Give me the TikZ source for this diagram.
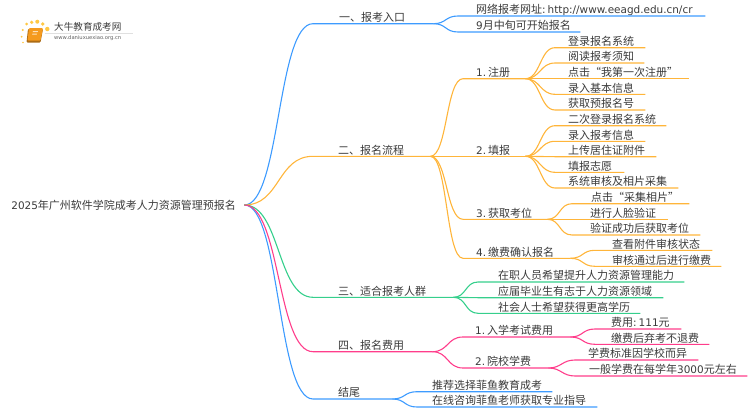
\documentclass[tikz,border=0pt]{standalone}
\usepackage{fontspec}
\usepackage{xcolor}
\setmainfont{Noto Sans CJK SC}
\newfontfamily\latin[Scale=0.95]{DejaVu Sans}
\newcommand{\lat}[1]{{\latin #1}}
\definecolor{mapblue}{HTML}{3D9BFF}
\definecolor{maporange}{HTML}{FFB53A}
\definecolor{mapgreen}{HTML}{35CF8C}
\definecolor{mappink}{HTML}{FF3D8B}
\definecolor{maptext}{HTML}{3A3A3A}
\definecolor{logodot}{HTML}{FFC845}
\definecolor{logobook}{HTML}{F59A1E}

\begin{document}
\begin{tikzpicture}[x=1pt, y=-1pt,
            topic/.style 2 args={anchor=south west, inner xsep=0pt, inner ysep=0pt, text width=#1pt, align=left, text height=8.5pt, text depth=2pt, text=maptext, font=\fontsize{11}{13}\selectfont, execute at begin node={\hspace*{#2pt}}},
            branch/.style={to path={.. controls +(#1,0) and +(-#1,0) .. (\tikztotarget)}},
            link/.style={line width=1.1pt},
            logodots/.style={fill=logodot, draw=none}]

            \useasboundingbox (0,0) rectangle (750,410);

            % logo
            \foreach \px/\py/\pr in {22.7/30/1.1, 21.7/36.7/1, 23/42.5/0.8, 26.7/24/1.5, 31.7/22.3/1.8, 37.3/21.7/2, 42.7/24/1.9, 47.3/29/2.2}
                \fill[logodots] (\px,\py) circle (\pr);
            \fill[logobook!70!black, rounded corners=1pt] (28,29) -- (43,29) -- (40.5,42.5) -- (26.5,42.5) -- cycle;
            \fill[logobook, rounded corners=1pt] (29,28) -- (43,28) -- (40.5,40.5) -- (27.5,40.5) -- cycle;
            \fill[white, opacity=0.7] (33,31) -- (38,31) -- (37.7,32) -- (32.7,32) -- cycle;
            \fill[white, opacity=0.7] (32.5,33.5) -- (37,33.5) -- (36.7,34.5) -- (32.2,34.5) -- cycle;
            \node[anchor=west, inner sep=0pt, text=maptext, font=\fontsize{9.6}{11}\selectfont] (logoname) at (54,26.5) {大牛教育成考网};
            \node[anchor=west, inner sep=0pt, text=maptext!80, font=\fontsize{5.5}{6}\selectfont\latin] (logourl) at (54,38.5) {www.daniuxuexiao.org.cn};
            \fill[black!12] (45,33) rectangle (133,33.5);

            % root
            \node[anchor=west, inner sep=0pt, minimum width=241, minimum height=14, text=maptext, font=\fontsize{11}{13}\selectfont] (root) at (3,205) {\lat{2025}年广州软件学院成考人力资源管理预报名};

            % first level
            \node[topic={120}{26}] (entry) at (313,23.7) {一、报考入口};
            \node[topic={117}{25}] (flow) at (313,156.3) {二、报名流程};
            \node[topic={140}{25}] (crowd) at (313,297.3) {三、适合报考人群};
            \node[topic={119}{25}] (cost) at (313,351.7) {四、报名费用};
            \node[topic={79}{25}] (ending) at (313,399) {结尾};

            % entry leaves
            \node[topic={247}{18}] (site) at (458,16) {网络报考网址\lat{:\hspace{2pt}http://www.eeagd.edu.cn/cr}};
            \node[topic={122}{18}] (start) at (458,32) {\lat{9}月中旬可开始报名};

            % flow steps
            \node[topic={62}{13}] (register) at (463,78.7) {\lat{1.}\hspace{2pt}注册};
            \node[topic={62}{13}] (fill) at (463,156.3) {\lat{2.}\hspace{2pt}填报};
            \node[topic={84}{13}] (seat) at (463,219.3) {\lat{3.}\hspace{2pt}获取考位};
            \node[topic={107}{13}] (pay) at (463,258.3) {\lat{4.}\hspace{2pt}缴费确认报名};

            % register leaves
            \node[topic={90}{13}] (regone) at (555,47.7) {登录报名系统};
            \node[topic={89}{13}] (regtwo) at (555,63) {阅读报考须知};
            \node[topic={134}{13}] (regthree) at (555,78.7) {点击“我第一次注册”};
            \node[topic={90}{13}] (regfour) at (555,94.3) {录入基本信息};
            \node[topic={90}{13}] (regfive) at (555,110) {获取预报名号};

            % fill leaves
            \node[topic={111}{13}] (fillone) at (555,125.7) {二次登录报名系统};
            \node[topic={90}{13}] (filltwo) at (555,141.3) {录入报考信息};
            \node[topic={101}{13}] (fillthree) at (555,156.7) {上传居住证附件};
            \node[topic={69}{13}] (fillfour) at (555,172.3) {填报志愿};
            \node[topic={123}{13}] (fillfive) at (555,188) {系统审核及相片采集};

            % seat leaves
            \node[topic={117}{19}] (seatone) at (572,203.7) {点击“采集相片”};
            \node[topic={96}{18}] (seattwo) at (572,219.3) {进行人脸验证};
            \node[topic={128}{18}] (seatthree) at (572,235) {验证成功后获取考位};

            % pay leaves
            \node[topic={117}{17}] (payone) at (595,250.3) {查看附件审核状态};
            \node[topic={126}{17}] (paytwo) at (595,266.3) {审核通过后进行缴费};

            % crowd leaves
            \node[topic={206}{20}] (crowdone) at (478,282) {在职人员希望提升人力资源管理能力};
            \node[topic={185}{20}] (crowdtwo) at (478,297.7) {应届毕业生有志于人力资源领域};
            \node[topic={162}{20}] (crowdthree) at (478,313.3) {社会人士希望获得更高学历};

            % cost steps and leaves
            \node[topic={107}{12}] (exam) at (463,337) {\lat{1.}\hspace{2pt}入学考试费用};
            \node[topic={85}{12}] (school) at (463,368) {\lat{2.}\hspace{2pt}院校学费};
            \node[topic={86}{16}] (examone) at (595,329) {费用\lat{:\hspace{2pt}111}元};
            \node[topic={114}{16}] (examtwo) at (595,344.3) {缴费后弃考不退费};
            \node[topic={123}{13}] (schoolone) at (575,360) {学费标准因学校而异};
            \node[topic={172}{14}] (schooltwo) at (575,376) {一般学费在每学年\lat{3000}元左右};

            % ending leaves
            \node[topic={135}{15}] (endone) at (417,391.7) {推荐选择菲鱼教育成考};
            \node[topic={180}{15}] (endtwo) at (417,407) {在线咨询菲鱼老师获取专业指导};

            % connectors
            \foreach \kid in {entry, ending}
                \draw[link, mapblue] (root.east) to[branch=36] (\kid.south west) -- (\kid.south east);
            \draw[link, maporange] (root.east) to[branch=36] (flow.south west) -- (flow.south east);
            \draw[link, mapgreen] (root.east) to[branch=36] (crowd.south west) -- (crowd.south east);
            \draw[link, mappink] (root.east) to[branch=36] (cost.south west) -- (cost.south east);

            \foreach \kid in {site, start}
                \draw[link, mapblue] (entry.south east) to[branch=13] (\kid.south west) -- (\kid.south east);
            \foreach \kid in {endone, endtwo}
                \draw[link, mapblue] (ending.south east) to[branch=13] (\kid.south west) -- (\kid.south east);

            \foreach \kid in {register, fill, seat, pay}
                \draw[link, maporange] (flow.south east) to[branch=17] (\kid.south west) -- (\kid.south east);
            \foreach \kid in {regone, regtwo, regthree, regfour, regfive}
                \draw[link, maporange] (register.south east) to[branch=15] (\kid.south west) -- (\kid.south east);
            \foreach \kid in {fillone, filltwo, fillthree, fillfour, fillfive}
                \draw[link, maporange] (fill.south east) to[branch=15] (\kid.south west) -- (\kid.south east);
            \foreach \kid in {seatone, seattwo, seatthree}
                \draw[link, maporange] (seat.south east) to[branch=13] (\kid.south west) -- (\kid.south east);
            \foreach \kid in {payone, paytwo}
                \draw[link, maporange] (pay.south east) to[branch=13] (\kid.south west) -- (\kid.south east);

            \foreach \kid in {crowdone, crowdtwo, crowdthree}
                \draw[link, mapgreen] (crowd.south east) to[branch=13] (\kid.south west) -- (\kid.south east);

            \foreach \kid in {exam, school}
                \draw[link, mappink] (cost.south east) to[branch=16] (\kid.south west) -- (\kid.south east);
            \foreach \kid in {examone, examtwo}
                \draw[link, mappink] (exam.south east) to[branch=13] (\kid.south west) -- (\kid.south east);
            \foreach \kid in {schoolone, schooltwo}
                \draw[link, mappink] (school.south east) to[branch=13] (\kid.south west) -- (\kid.south east);
        \end{tikzpicture}
\end{document}
